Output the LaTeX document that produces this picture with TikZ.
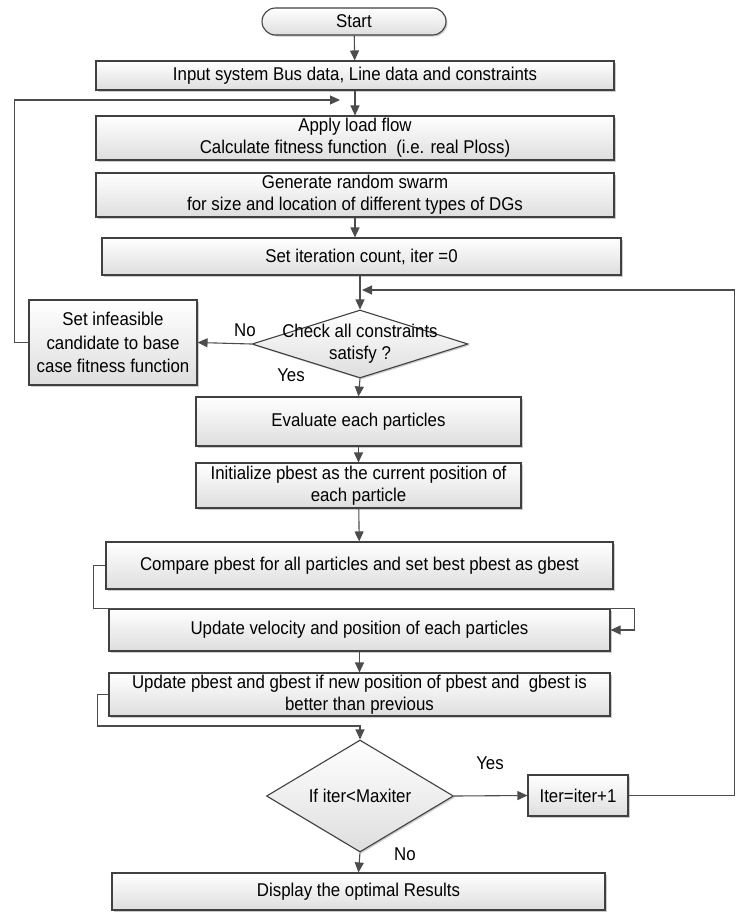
\documentclass[tikz,border=0pt]{standalone}
\usepackage{fontspec}
\setmainfont{Liberation Sans}[FakeStretch=0.91]
\usetikzlibrary{arrows,arrows.meta,shapes.geometric,shapes.misc,shadows}

\begin{document}
\begin{tikzpicture}[x=1pt,y=-1pt,font=\fontsize{18.5}{22}\selectfont]
			\tikzstyle{es} = [-{Triangle[length=10pt,width=9pt]}, draw=black!70, line width=1.1pt]
			\tikzstyle{box} = [rectangle, draw=black!75, line width=1.1pt, top color=white, bottom color=black!13, drop shadow={shadow xshift=1.5pt, shadow yshift=-1.5pt, fill=black!40}, align=center, inner sep=0pt]
			\tikzstyle{term} = [box, rounded rectangle]
			\tikzstyle{decision} = [box, diamond, drop shadow={opacity=0}]
			\useasboundingbox (0,0) rectangle (736,913);
			\node (start) [term, minimum width=184pt, minimum height=27pt] at (354,21.5) {Start};
			\node (input) [box, minimum width=518pt, minimum height=29pt] at (355,75.5) {Input system Bus data, Line data and constraints};
			\node (apply) [box, minimum width=518pt, minimum height=44pt] at (355,138) {Apply load flow\\Calculate fitness function\ \ (i.e. real Ploss)};
			\node (generate) [box, minimum width=518pt, minimum height=44pt] at (355,195) {Generate random swarm\\for size and location of different types of DGs};
			\node (iter0) [box, minimum width=519pt, minimum height=37pt] at (361.5,256.5) {Set iteration count, iter =0};
			\node (check) [decision, minimum width=216pt, minimum height=68pt, label={[align=center]center:Check all constraints\\satisfy ?}] at (360,344) {};
			\node (infeas) [box, minimum width=168pt, minimum height=85pt, font=\fontsize{18.5}{23.5}\selectfont] at (113,342.5) {Set infeasible\\candidate to base\\case fitness function};
			\node (evaluate) [box, minimum width=325pt, minimum height=49pt] at (358.5,421.5) {Evaluate each particles};
			\node (init) [box, minimum width=325pt, minimum height=45pt] at (358.5,485.5) {Initialize pbest as the current position of\\each particle};
			\node (compare) [box, minimum width=507pt, minimum height=47pt] at (359.5,565.5) {Compare pbest for all particles and set best pbest as gbest};
			\node (update) [box, minimum width=501pt, minimum height=42pt] at (359.5,630) {Update velocity and position of each particles};
			\node (updbest) [box, minimum width=501pt, minimum height=43pt] at (359.5,694.5) {Update pbest and gbest if new position of pbest and\ \ gbest is\\better than previous};
			\node (maxit) [decision, minimum width=187pt, minimum height=112pt, label={center:If iter<Maxiter}] at (360,796) {};
			\node (incr) [box, minimum width=100pt, minimum height=41pt] at (578,795.5) {Iter=iter+1};
			\node (display) [box, minimum width=493pt, minimum height=37pt] at (358.5,891.5) {Display the optimal Results};
			\node (no1) at (245,330) {No};
			\node (yes1) at (291,375) {Yes};
			\node (yes2) at (490,763) {Yes};
			\node (no2) at (405,854) {No};
			\coordinate (fbtop) at (340,100);
			\coordinate (fbright) at (362,290);
			\coordinate (jn2) at (360,726);
			\draw [es] (start) -- (input);
			\draw [es] (input) -- (apply);
			\draw [es] (generate.south) -- (generate.south |- iter0.north);
			\draw [es] (iter0.south -| check.north) -- (check.north);
			\draw [es] (check.west) -- (infeas.east);
			\draw [es] (infeas.west) -- ++(-14,0) |- (fbtop);
			\draw [es] (check.south) -- (evaluate.north);
			\draw [es] (evaluate) -- (init);
			\draw [es] (init) -- (compare);
			\draw [es] (compare.west) -- ++(-12,0) |- (update.north east) -- ++(24,0) |- (update.east);
			\draw [es] (update) -- (updbest);
			\draw [es] (updbest.west) -- ++(-11,0) |- (jn2) -- (maxit.north);
			\draw [es] (maxit.east) -- (incr.west);
			\draw [es] (incr.east) -- (734.5,795.5) |- (fbright);
			\draw [es] (maxit.south) -- (display.north);
		\end{tikzpicture}
\end{document}
